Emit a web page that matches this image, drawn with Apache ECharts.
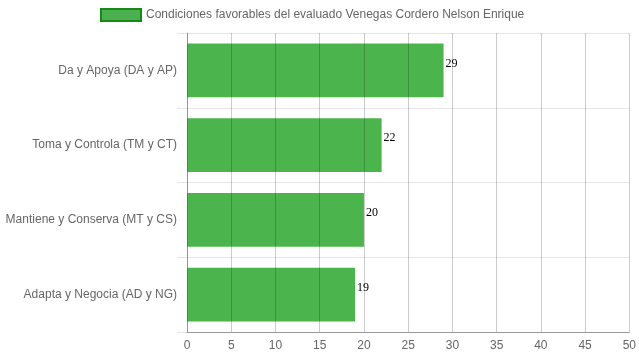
<!DOCTYPE html>
<html><head><meta charset="utf-8">
<script src="https://cdn.jsdelivr.net/npm/echarts@6/dist/echarts.min.js"></script>
<style>html,body{margin:0;padding:0;background:#fff}#c{width:639px;height:360px}</style>
</head><body><div id="c"></div>
<script>
const categories = ["Da y Apoya (DA y AP)", "Toma y Controla (TM y CT)", "Mantiene y Conserva (MT y CS)", "Adapta y Negocia (AD y NG)"];
const values = [29, 22, 20, 19];
const seriesName = "Condiciones favorables del evaluado Venegas Cordero Nelson Enrique";
const xMin = 0, xMax = 50, xStep = 5;

const chart = echarts.init(document.getElementById('c'), null, {renderer: 'canvas'});
chart.setOption({
  animation: false,
  textStyle: {fontFamily: 'Liberation Sans, Arial, sans-serif'},
  legend: {
    top: 3, left: 95,
    itemWidth: 40, itemHeight: 12, itemGap: 6,
    icon: 'rect',
    textStyle: {color: '#666', fontSize: 12},
    data: [{name: seriesName, itemStyle: {color: '#4caf50', borderColor: '#138a13', borderWidth: 2}}]
  },
  grid: {left: 187, right: 9, top: 33, bottom: 28},
  xAxis: {
    type: 'value', min: xMin, max: xMax, interval: xStep, z: 5,
    axisLine: {show: true, lineStyle: {color: '#999'}},
    axisTick: {show: false},
    axisLabel: {color: '#666', fontSize: 12, margin: 8},
    splitLine: {show: true, lineStyle: {color: 'rgba(0,0,0,0.2)', width: 1}}
  },
  yAxis: {
    type: 'category', data: categories, inverse: true,
    axisLine: {show: true, lineStyle: {color: '#bbb'}},
    axisTick: {show: true, length: 10, lineStyle: {color: '#e6e6e6'}},
    axisLabel: {color: '#666', fontSize: 12, margin: 10},
    splitLine: {show: true, lineStyle: {color: '#e6e6e6'}}
  },
  series: [{
    name: seriesName, type: 'bar', data: values,
    barCategoryGap: '28%',
    itemStyle: {color: '#4cb44c'},
    label: {show: true, position: 'right', distance: 2, offset: [0, -7], color: '#000', fontSize: 12,
      fontFamily: 'Liberation Serif, Times New Roman, serif'}
  }]
});
</script></body></html>
